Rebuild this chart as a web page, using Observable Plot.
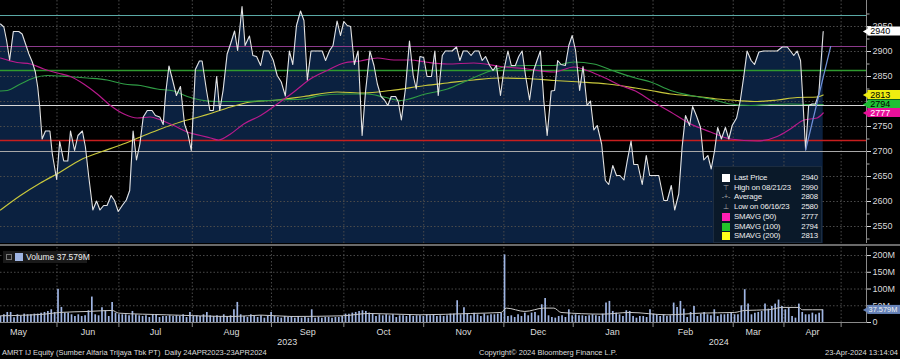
<!DOCTYPE html>
<html><head><meta charset="utf-8">
<script src="https://cdn.jsdelivr.net/npm/d3@7"></script>
<script src="https://cdn.jsdelivr.net/npm/@observablehq/plot@0.6"></script>
<style>
body{margin:0;background:#000;}
#wrap{position:relative;width:900px;height:359px;background:#000;overflow:hidden;font-family:"Liberation Sans",Arial,sans-serif;color:#e6e6e6;}
#wrap svg{position:absolute;left:0;}
.leg{position:absolute;left:713px;top:166px;width:109px;height:77px;background:#0a1929;border:1px solid #1c2c40;box-sizing:border-box;font-size:7.8px;letter-spacing:-0.15px;color:#f0f0f0;}
.leg .row{position:absolute;left:0;width:107px;height:10px;line-height:10px;white-space:nowrap;}
.leg .sw{position:absolute;left:8px;top:1px;width:8px;height:8px;}
.leg .sym{position:absolute;left:7px;top:0;width:10px;text-align:center;color:#aaa;font-size:7px;}
.leg .lab{position:absolute;left:20px;}
.leg .val{position:absolute;right:3px;}
.vleg{position:absolute;left:3px;top:251px;height:12px;width:84px;background:#1a1a1a;font-size:8.5px;line-height:12px;color:#eee;white-space:nowrap;}
.foot{position:absolute;top:348px;font-size:7.5px;color:#ddd;white-space:pre;line-height:10px;}
</style></head><body><div id="wrap"></div>
<script>
// ---------- data ----------
// trading-session index (0 = 24 Apr 2023 ... 243 = 23 Apr 2024) and closing price
const sessions = [0,1.0,1.8,2.7,3.8,5.4,6.4,7.4,8.4,9.4,10.3,11.0,11.6,12.3,13.3,14.6,15.3,16.6,17.5,18.7,19.9,20.7,21.9,22.9,24.2,25.1,26.1,27.3,28.4,29.4,30.5,31.5,32.7,33.7,34.8,36.0,37.2,38.2,39.2,40.2,41.2,42.2,43.4,44.8,45.8,47.1,48.1,48.8,49.8,50.9,52.0,53.2,54.4,55.4,56.4,57.6,58.8,59.6,60.9,61.9,62.9,63.9,64.8,65.8,67.0,68.0,69.2,70.1,71.4,72.3,73.6,74.6,75.7,76.9,77.8,79.3,80.6,81.8,83.0,84.2,85.4,86.4,87.5,88.7,89.7,90.7,91.8,93.6,95.1,96.1,97.3,98.3,99.5,100.5,101.5,102.5,103.5,104.6,105.7,106.9,107.9,109.2,110.4,111.4,112.5,113.5,114.5,115.5,116.8,117.6,118.5,119.7,120.9,122.0,122.9,124.0,125.1,126.1,127.4,128.4,129.4,130.6,131.5,133.5,134.8,135.8,136.8,138.0,139.1,140.2,141.4,142.4,143.4,144.6,145.6,146.6,147.8,148.8,150.0,151.0,152.2,153.2,154.2,155.2,156.4,157.6,158.6,159.6,160.6,161.6,162.8,163.8,164.7,165.7,167.0,168.0,169.0,170.0,171.2,172.2,173.4,174.4,175.4,176.4,177.7,178.8,179.8,181.0,182.1,183.1,184.3,185.3,186.4,187.2,188.4,189.7,190.9,191.9,193.1,194.6,196.1,197.1,198.3,199.3,200.5,201.5,202.5,203.7,204.6,205.7,206.9,207.9,209.1,210.1,211.1,212.0,213.1,214.3,215.3,216.3,217.6,218.7,219.7,220.7,221.9,222.9,224.2,225.6,227.6,229.6,231.1,232.6,233.5,234.5,235.5,236.5,237.2,238.0,238.9,239.9,240.9,241.9,243.2];
const closes = [2955,2949,2922,2883,2940,2940,2935,2915,2895,2879,2859,2829,2789,2725,2741,2741,2696,2644,2720,2681,2681,2741,2702,2732,2741,2709,2649,2583,2601,2583,2592,2592,2612,2602,2580,2592,2603,2622,2741,2683,2715,2769,2782,2782,2772,2769,2754,2815,2871,2842,2812,2830,2755,2735,2702,2864,2881,2881,2822,2782,2782,2850,2782,2822,2895,2915,2941,2902,2990,2912,2931,2892,2890,2872,2901,2901,2883,2852,2839,2811,2901,2874,2952,2981,2962,2843,2901,2901,2901,2882,2902,2912,2961,2932,2960,2952,2950,2874,2901,2732,2819,2901,2872,2835,2810,2803,2792,2810,2810,2799,2763,2825,2921,2852,2825,2890,2888,2850,2850,2901,2812,2892,2901,2901,2909,2882,2901,2901,2892,2901,2901,2882,2890,2872,2862,2872,2812,2862,2901,2872,2872,2890,2901,2852,2803,2862,2882,2901,2802,2732,2821,2822,2882,2874,2872,2912,2932,2902,2822,2870,2792,2801,2743,2752,2715,2642,2634,2672,2652,2652,2643,2682,2721,2674,2674,2634,2692,2652,2652,2652,2602,2602,2632,2583,2615,2709,2772,2752,2790,2772,2749,2683,2692,2665,2702,2748,2725,2748,2725,2752,2767,2802,2849,2901,2882,2874,2899,2901,2901,2901,2909,2909,2901,2892,2901,2882,2802,2703,2792,2795,2795,2815,2940];

const sma50 = [[0,2887],[4.9,2878],[8.9,2875],[12.8,2865],[16.8,2857],[20.7,2850],[24.6,2835],[28.6,2815],[32.5,2792],[36.5,2775],[40.4,2767],[44.3,2769],[47.3,2763],[51.2,2752],[55.2,2739],[59.1,2732],[62.1,2727],[64.5,2723],[68.0,2735],[71.9,2755],[76.9,2772],[81.8,2795],[86.7,2819],[91.6,2845],[96.6,2862],[101.5,2877],[106.4,2881],[111.4,2887],[116.3,2883],[121.2,2883],[125.6,2879],[132.1,2875],[139.9,2877],[147.8,2870],[155.7,2865],[163.6,2859],[169.5,2869],[173.4,2862],[179.4,2845],[183.3,2832],[187.7,2821],[192.2,2802],[198.1,2779],[204.0,2755],[209.9,2739],[215.8,2725],[223.7,2721],[229.6,2730],[233.5,2745],[237.5,2763],[241.4,2767],[243.2,2777]];
const sma100 = [[0,2821],[2.0,2822],[5.9,2835],[9.8,2847],[13.8,2852],[19.7,2850],[25.6,2847],[31.5,2843],[36.5,2835],[41.4,2832],[46.3,2825],[51.2,2821],[55.2,2810],[59.1,2803],[63.6,2800],[71.9,2800],[81.8,2803],[89.7,2805],[94.6,2812],[101.5,2815],[108.4,2815],[113.3,2809],[118.3,2802],[125.6,2815],[132.1,2825],[138.0,2842],[143.9,2859],[149.8,2870],[155.7,2872],[163.6,2872],[169.5,2879],[175.4,2875],[181.3,2861],[187.7,2847],[192.2,2839],[198.1,2822],[204.0,2812],[209.9,2805],[215.8,2795],[221.7,2792],[227.6,2794],[233.5,2795],[239.5,2794],[243.2,2794]];
const sma200 = [[0,2583],[5.9,2612],[11.8,2637],[17.7,2659],[23.6,2683],[29.6,2699],[35.5,2713],[41.4,2729],[47.3,2745],[53.2,2759],[59.1,2770],[62.1,2776],[68.0,2789],[73.9,2799],[81.8,2803],[89.7,2810],[99.5,2819],[107.4,2817],[115.3,2822],[125.6,2832],[132.1,2837],[139.9,2843],[147.8,2847],[155.7,2846],[163.6,2842],[171.5,2839],[179.4,2835],[187.7,2827],[192.2,2822],[198.1,2815],[206.0,2810],[211.9,2805],[217.8,2802],[223.7,2800],[229.6,2803],[235.5,2808],[241.4,2809],[243.2,2813]];

// daily volume (millions), one per session 0..243
const volume = [18,23,30,30,14,23,18,25,23,23, 25,25,28,30,33,38,30,99,45,28, 28,23,18,23,18,20,35,76,23,20, 44,35,18,60,28,23,23,23,20,33,
 23,20,18,20,15,23,23,15,18,18, 20,18,20,18,23,15,30,18,20,18, 23,30,20,18,20,18,23,18,20,38, 60,23,18,15,23,18,15,20,13,18,
 30,18,15,13,18,15,18,13,18,13, 15,13,38,13,15,13,15,15,13,15, 15,18,25,25,28,30,33,35,33,28, 25,18,23,20,23,20,23,15,20,20,
 18,23,18,20,20,18,23,20,23,18, 20,18,20,25,25,65,23,44,25,20, 28,23,18,25,20,23,23,25,28,202, 18,20,15,23,18,28,20,28,30,20,
 53,72,20,15,13,18,20,15,38,20, 23,20,20,18,20,23,20,18,25,58, 63,33,28,23,18,35,33,18,13,18, 18,15,38,25,23,18,23,18,20,58,
 45,63,40,15,30,48,18,25,30,23, 20,38,18,23,23,25,28,23,23,50, 98,55,23,28,30,33,55,40,48,55, 67,48,38,43,18,13,55,30,23,23,
 28,23,28,37.579];
const volumeAvg = [[0,20],[13,25],[17.5,30],[26,33],[33,36],[35,28],[49,23],[69,18],[77,22],[86,18],[101,20],[109,27],[124,23],[139,27],[148,30],[149.5,43],[155,33],[160.6,43],[163.6,43],[165.7,30],[178,25],[186,30],[197,23],[207,28],[217,30],[220,36],[227,38],[231,45],[236,45],[237,38],[243,38]];

// drawn horizontal levels and trend line
const levelValues = [2972,2910,2862,2792,2722,2700];
const levelColors = ["#5aa9a6","#8c3a8c","#2f9a2f","#d8d8d8","#c81e1e","#a8a8a8"];
const levelWidths = [1,1.2,1.5,1.2,1.6,1.2];
const trendLine = [[238.0,2703],[245.4,2910]];

// axis: month starts (session index), month labels, years
const monthStarts = [16.7,35.0,56.7,80.1,101.5,125.1,148.8,169.3,192.9,216.6,231.6,248.5];
const monthNames = ["May","Jun","Jul","Aug","Sep","Oct","Nov","Dec","Jan","Feb","Mar","Apr"];
const monthCenters = [5.3,25.9,45.8,68.3,90.8,113.2,136.9,159.0,180.9,202.5,222.5,240.0];
const yearNames = ["2023","2024"];
const yearCenters = [84.8,212.3];
const priceTicks = [2550,2600,2650,2700,2750,2800,2850,2900,2950];
const priceTickLabels = [2550,2600,2650,2700,2750,2850,2900,2950]; // 2800 is hidden behind the value boxes
const volumeTicks = [0,50,100,150,200];

// legend
const legendLabels = ["Last Price","High on 08/21/23","Average","Low on 06/16/23","SMAVG (50)","SMAVG (100)","SMAVG (200)"];
const legendValues = [2940,2990,2808,2580,2777,2794,2813];
const legendColors = ["#ffffff",null,null,null,"#ff1fb4","#22c42a","#ffff1a"];
const legendSymbols = ["","⊤","-+-","⊥","","",""];
const lastVolume = 37.579;

// ---------- build ----------
const X_DOMAIN = [0,256];
const P_DOMAIN = [2516,3002];
const V_DOMAIN = [0,224];
const font = "Liberation Sans, Arial, sans-serif";
const pricePts = sessions.map((s,i)=>({s, p: closes[i]}));
const toPts = a => a.map(([s,v])=>({s,v}));
const levels = levelValues.map((v,i)=>({v, c: levelColors[i], w: levelWidths[i]}));
const boxes = [
  {v: legendValues[0], fill:"#ffffff", ink:"#000"},
  {v: legendValues[6], fill:"#eeee10", ink:"#000"},
  {v: legendValues[5], fill:"#1fbf35", ink:"#000"},
  {v: legendValues[4], fill:"#e8109a", ink:"#fff"}
];
const grid = {stroke:"#4a4a4a", strokeDasharray:"1.5,2", strokeWidth:1};
const xEnd = X_DOMAIN[1];

const price = Plot.plot({
  width: 900, height: 245, marginLeft: 0, marginRight: 34, marginTop: 0, marginBottom: 2,
  x: {domain: X_DOMAIN, axis: null},
  y: {domain: P_DOMAIN, axis: null},
  color: {type: "identity"},
  style: {background: "transparent", fontFamily: font, color: "#ddd"},
  marks: [
    Plot.areaY(pricePts, {x: "s", y1: P_DOMAIN[0], y2: "p", fill: "#0b2140"}),
    Plot.ruleY(priceTicks, {...grid}),
    Plot.ruleX(monthStarts, {...grid}),
    Plot.ruleY(levels, {y: "v", stroke: "c", strokeWidth: "w"}),
    Plot.line(toPts(sma200), {x:"s", y:"v", stroke:"#c9c83c", strokeWidth:1.2, curve:"monotone-x"}),
    Plot.line(toPts(sma100), {x:"s", y:"v", stroke:"#2f9c45", strokeWidth:1.2, curve:"monotone-x"}),
    Plot.line(toPts(sma50), {x:"s", y:"v", stroke:"#b81a8c", strokeWidth:1.2, curve:"monotone-x"}),
    Plot.line(pricePts, {x:"s", y:"p", stroke:"#e4e4e4", strokeWidth:1.1}),
    Plot.line(toPts(trendLine), {x:"s", y:"v", stroke:"#6f8fd6", strokeWidth:1.2}),
    Plot.ruleX([xEnd], {stroke:"#8a8a8a"}),
    Plot.axisY({anchor:"right", label: null, ticks: priceTicks, tickSize: 4, tickFormat: () => "", color: "#d8d8d8"}),
    Plot.axisY({anchor:"right", label: null, ticks: priceTickLabels, tickSize: 4, tickPadding: 2, fontSize: 9, color: "#d8d8d8", tickFormat: d => String(d)}),
    Plot.axisY({anchor:"right", label: null, ticks: priceTicks.map(t=>t-25).concat([2975]), tickSize: 2.5, tickFormat: () => "", color: "#aaa"}),
    Plot.rect(boxes, {x1: xEnd + 0.4, x2: xEnd + 10.5, y1: d => d.v - 9, y2: d => d.v + 9, fill: "fill"}),
    Plot.dot(boxes, {x: xEnd + 0.4, y: "v", symbol: "triangle", r: 3.2, rotate: -90, fill: "fill", stroke: "none"}),
    Plot.text(boxes, {x: xEnd + 1.1, y: "v", text: d => String(d.v), fill: "ink", fontSize: 9, textAnchor: "start"})
  ]
});
price.style.top = "0px";

const volRows = volume.map((v,i)=>({s:i, v}));
const vol = Plot.plot({
  width: 900, height: 104, marginLeft: 0, marginRight: 34, marginTop: 2, marginBottom: 27,
  x: {domain: X_DOMAIN, axis: null},
  y: {domain: V_DOMAIN, axis: null},
  color: {type: "identity"},
  style: {background: "transparent", fontFamily: font, color: "#ddd"},
  marks: [
    Plot.ruleY(volumeTicks.slice(1), {...grid}),
    Plot.ruleX(monthStarts, {...grid}),
    Plot.ruleX(volRows, {x: "s", y1: 0, y2: "v", stroke: "#9fb5e3", strokeWidth: 1.7}),
    Plot.line(toPts(volumeAvg), {x:"s", y:"v", stroke:"#c8c8c8", strokeWidth:1, curve:"monotone-x"}),
    Plot.ruleY([0], {x1: 0, x2: xEnd + 1.2, stroke:"#8a8a8a"}),
    Plot.ruleX([xEnd], {stroke:"#8a8a8a"}),
    Plot.axisY({anchor:"right", label: null, ticks: volumeTicks, tickSize: 4, tickPadding: 2, fontSize: 9, color:"#d8d8d8", tickFormat: d => d === 0 ? "0" : d + "M"}),
    Plot.axisX({label: null, ticks: monthStarts, tickSize: 5, tickFormat: () => "", color: "#8a8a8a"}),
    Plot.text(monthNames.map((m,i)=>({m, s: monthCenters[i]})), {x:"s", text:"m", frameAnchor:"bottom", dy: 12, fill:"#dcdcdc", fontSize: 9}),
    Plot.text(yearNames.map((m,i)=>({m, s: yearCenters[i]})), {x:"s", text:"m", frameAnchor:"bottom", dy: 22, fill:"#dcdcdc", fontSize: 9}),
    Plot.rect([lastVolume], {x1: xEnd + 0.4, x2: xEnd + 10.5, y1: d => d - 13.5, y2: d => d + 13.5, fill: "#6783b8"}),
    Plot.dot([lastVolume], {x: xEnd + 0.4, y: d => d, symbol: "triangle", r: 3.2, rotate: -90, fill: "#6783b8", stroke: "none"}),
    Plot.text([lastVolume], {x: xEnd + 0.6, y: d => d, text: d => d.toFixed(3) + "M", fill: "#f2f2f2", fontSize: 7.4, textAnchor: "start"})
  ]
});
vol.style.top = "245px";

const wrap = document.getElementById("wrap");
wrap.appendChild(price);
wrap.appendChild(vol);

// panel separator
const sep = document.createElement("div");
sep.style.cssText = "position:absolute;left:0;top:244px;width:900px;height:2px;background:#6a6a6a;";
wrap.appendChild(sep);

// price legend
const leg = document.createElement("div");
leg.className = "leg";
legendLabels.forEach((lab,i)=>{
  const r = document.createElement("div");
  r.className = "row";
  r.style.top = (6 + i*9.7) + "px";
  const mark = legendColors[i]
    ? `<span class="sw" style="background:${legendColors[i]}"></span>`
    : `<span class="sym">${legendSymbols[i]}</span>`;
  r.innerHTML = mark + `<span class="lab">${lab}</span><span class="val">${legendValues[i]}</span>`;
  leg.appendChild(r);
});
wrap.appendChild(leg);

// volume legend
const vl = document.createElement("div");
vl.className = "vleg";
vl.innerHTML = `<span style="position:absolute;left:3px;top:3px;width:6px;height:6px;border:1px solid #777;box-sizing:border-box"></span><span style="position:absolute;left:12px;top:2px;width:8px;height:8px;background:#9fb5e3"></span><span style="position:absolute;left:23px;white-space:nowrap">Volume ${lastVolume.toFixed(3)}M</span>`;
wrap.appendChild(vl);

// footer
const f1 = document.createElement("div"); f1.className="foot"; f1.style.left="2px";
f1.textContent = "AMRT IJ Equity (Sumber Alfaria Trijaya Tbk PT)  Daily 24APR2023-23APR2024";
const f2 = document.createElement("div"); f2.className="foot"; f2.style.left="479px";
f2.textContent = "Copyright\u00a9 2024 Bloomberg Finance L.P.";
const f3 = document.createElement("div"); f3.className="foot"; f3.style.right="2px";
f3.textContent = "23-Apr-2024 13:14:04";
wrap.append(f1,f2,f3);
</script></body></html>
